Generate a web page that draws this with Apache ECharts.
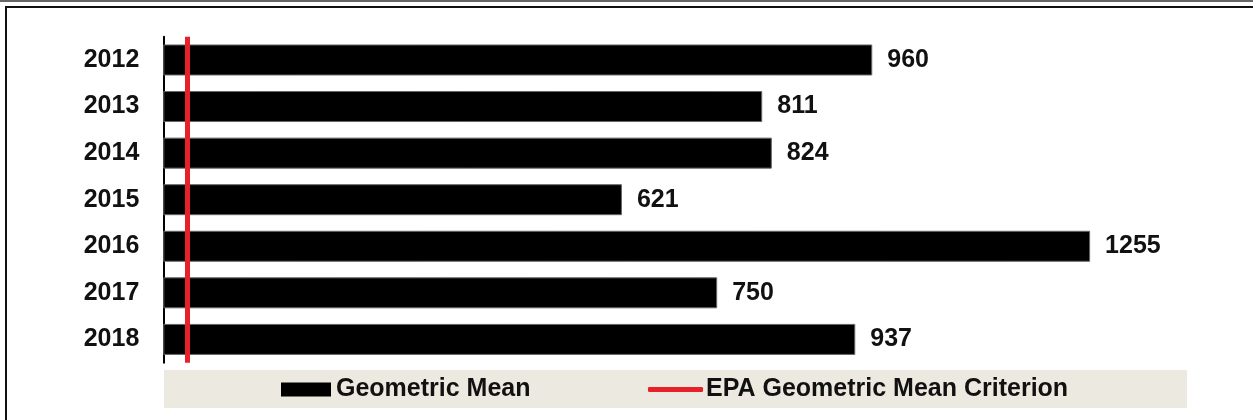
<!DOCTYPE html>
<html>
<head>
<meta charset="utf-8">
<script src="https://cdn.jsdelivr.net/npm/echarts@6/dist/echarts.min.js"></script>
<style>
html,body{margin:0;padding:0;background:#fff;}
#wrap{position:relative;width:1253px;height:420px;overflow:hidden;}
#chart{position:absolute;left:0;top:0;width:1253px;height:420px;}
#topline{position:absolute;left:0;top:0;width:1253px;height:2px;background:#666;}
#frame{position:absolute;left:5px;top:6px;width:1300px;height:500px;border-left:2px solid #111;border-top:2px solid #111;}
</style>
</head>
<body>
<div id="wrap">
<div id="chart"></div>
<div id="topline"></div>
<div id="frame"></div>
</div>
<script>
var years = ['2012','2013','2014','2015','2016','2017','2018'];
var geometricMean = [960, 811, 824, 621, 1255, 750, 937];
var criterion = 33;
var seriesNames = ['Geometric Mean', 'EPA Geometric Mean Criterion'];

var chart = echarts.init(document.getElementById('chart'));
var font = 'Liberation Sans, Arial, Helvetica, sans-serif';
chart.setOption({
  backgroundColor: 'transparent',
  animation: false,
  textStyle: {fontFamily: font},
  graphic: [{
    type: 'rect', z: -10,
    shape: {x: 164, y: 370, width: 1023, height: 38},
    style: {fill: '#ECEAE0'}
  }],
  legend: [{
    data: [seriesNames[0]],
    left: 281, top: 377, padding: 0,
    icon: 'rect', itemWidth: 50, itemHeight: 14, itemGap: 5,
    itemStyle: {borderWidth: 0, color: '#000'},
    textStyle: {fontSize: 25, fontWeight: 'bold', color: '#111', fontFamily: font, padding: [0,0,0,0]}
  }, {
    data: [seriesNames[1]],
    left: 648, top: 377, padding: 0,
    icon: 'roundRect', itemWidth: 55, itemHeight: 5, itemGap: 5,
    textStyle: {fontSize: 25, fontWeight: 'bold', color: '#111', fontFamily: font, padding: [0,0,0,-2]}
  }],
  grid: {left: 163.3, top: 36.7, bottom: 57.3, width: 1033.9, containLabel: false},
  xAxis: {
    type: 'value', min: 0, max: 1400, show: false
  },
  yAxis: {
    type: 'category', data: years, inverse: true,
    axisLine: {show: true, lineStyle: {color: '#000', width: 2}},
    axisTick: {show: false},
    axisLabel: {fontSize: 25, fontWeight: 'bold', color: '#111', margin: 24, fontFamily: font},
    splitLine: {show: false}
  },
  series: [{
    name: seriesNames[0], type: 'bar', data: geometricMean,
    barWidth: 31,
    itemStyle: {color: '#000', borderColor: '#666', borderWidth: 1},
    label: {show: true, position: 'right', distance: 15, fontSize: 25, fontWeight: 'bold', color: '#111', fontFamily: font},
    z: 2
  }, {
    name: seriesNames[1], type: 'line', data: [],
    itemStyle: {color: '#E8202A'},
    lineStyle: {color: '#E8202A', width: 5},
    symbol: 'none',
    markLine: {
      silent: true, symbol: ['none','none'], label: {show: false},
      lineStyle: {color: '#E8202A', width: 5, type: 'solid'},
      data: [{xAxis: criterion}],
      z: 5
    }
  }]
});
</script>
</body>
</html>
